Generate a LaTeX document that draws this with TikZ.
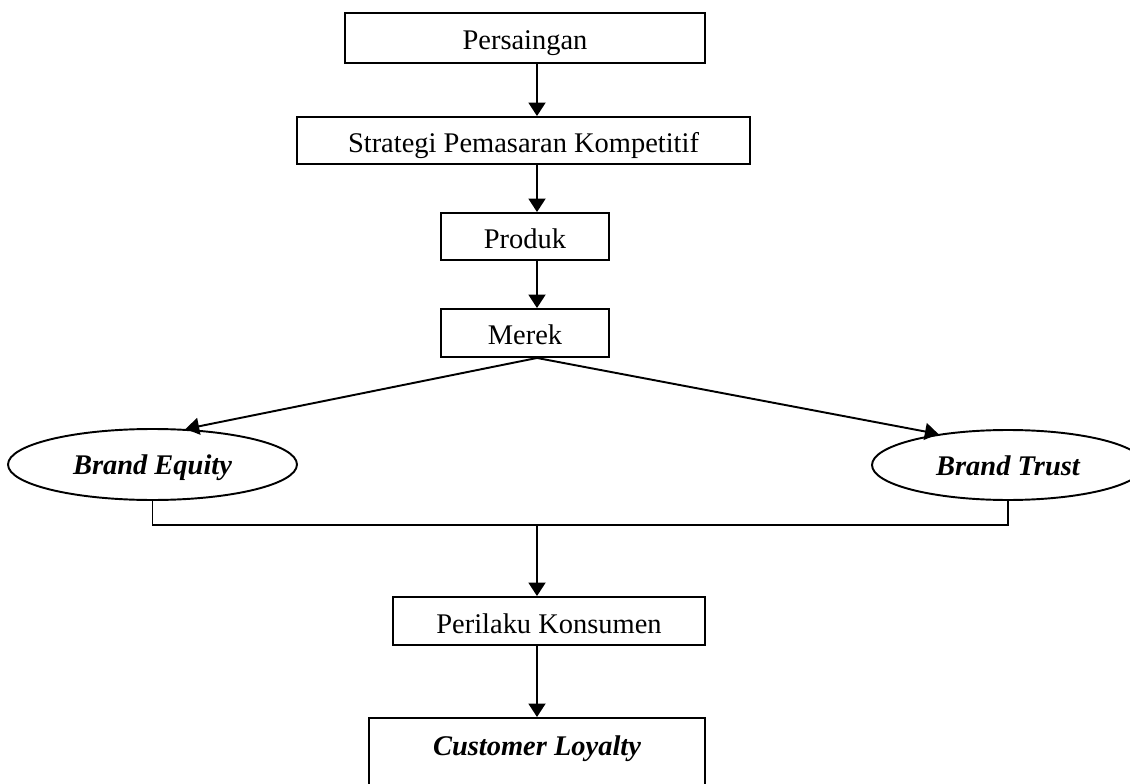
\documentclass[tikz,border=0pt]{standalone}
\usepackage{fontspec}
\setmainfont{Liberation Serif}
\usepackage{tikz}
\usetikzlibrary{arrows.meta,calc,positioning,shapes.geometric}

\begin{document}
\begin{tikzpicture}[x=0.02cm, y=-0.02cm, font=\fontsize{16.2}{19}\selectfont,
    box/.style={draw, line width=1.1pt, rectangle, inner sep=0pt, text height=0.48cm, text depth=0pt},
    oval/.style={draw, line width=1.1pt, ellipse, inner sep=0pt, text height=0.42cm, text depth=0pt, font=\fontsize{16.2}{19}\selectfont\bfseries\itshape},
    arr/.style={-{Triangle[length=0.27cm, width=0.34cm]}, line width=1.1pt}]
    \useasboundingbox (0,0) rectangle (1130,784);
    \coordinate (spine) at (537,0);

    % Flow boxes
    \node[box, minimum width=7.2cm, minimum height=1cm] (persaingan) at (525,38) {Persaingan};
    \node[box, minimum width=9.06cm, minimum height=0.94cm] (strategi) at (523.5,140.5) {Strategi Pemasaran Kompetitif};
    \node[box, minimum width=3.36cm, minimum height=0.94cm] (produk) at (525,236.5) {Produk};
    \node[box, minimum width=3.36cm, minimum height=0.96cm] (merek) at (525,333) {Merek};

    % Brand nodes
    \node[oval, minimum width=5.78cm, minimum height=1.42cm] (equity) at (152.5,464.5) {Brand Equity};
    \node[oval, minimum width=5.44cm, minimum height=1.4cm] (trust) at (1008,465) {Brand Trust};

    \node[box, minimum width=6.24cm, minimum height=0.96cm] (perilaku) at (549,621) {Perilaku Konsumen};
    \node[box, anchor=north, minimum width=6.72cm, text height=0.76cm, text depth=1.14cm,
          font=\fontsize{16.2}{19}\selectfont\bfseries\itshape] (loyalty) at (537,717) {Customer Loyalty};

    % Arrows
    \draw[arr] (persaingan.south -| spine) -- (strategi.north -| spine);
    \draw[arr] (strategi.south -| spine) -- (produk.north -| spine);
    \draw[arr] (produk.south -| spine) -- (merek.north -| spine);
    \draw[arr] (merek.south -| spine) -- (equity.47);
    \draw[arr] (merek.south -| spine) -- (trust.156);

    % Joining line
    \draw[line width=1.1pt] (equity.south) -- ++(0,24) coordinate (join) -| (trust.south);
    \draw[arr] (join -| spine) -- (perilaku.north -| spine);
    \draw[arr] (perilaku.south -| spine) -- (loyalty.north -| spine);
\end{tikzpicture}
\end{document}
